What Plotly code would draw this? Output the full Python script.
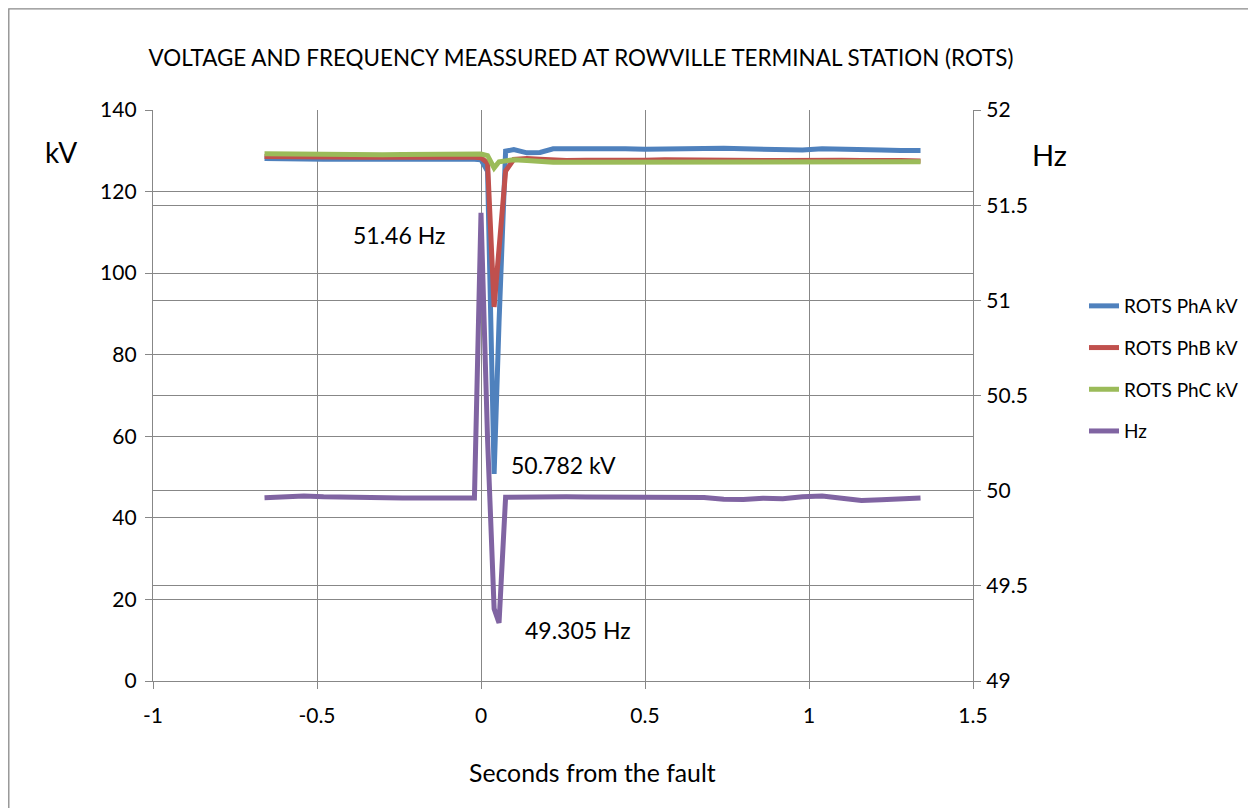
import plotly.graph_objects as go

# ---- data ----
t = [-0.66, -0.6, -0.54, -0.48, -0.42, -0.36, -0.3, -0.24, -0.18, -0.12, -0.06,
     -0.02, 0.0, 0.02, 0.04, 0.055, 0.075,
     0.1, 0.14, 0.18, 0.22, 0.26, 0.32, 0.38, 0.44, 0.5, 0.56, 0.62, 0.68, 0.74,
     0.8, 0.86, 0.92, 0.98, 1.04, 1.1, 1.16, 1.22, 1.28, 1.34]

pha_kv = [128.1, 127.9, 128.0, 127.9, 128.0, 127.8, 127.9, 127.9, 128.0, 128.0, 127.9,
          127.9, 127.8, 125.0, 50.782, 88.0, 129.9,
          130.3, 129.5, 129.6, 130.5, 130.5, 130.6, 130.7, 130.5, 130.4, 130.5, 130.6,
          130.6, 130.6, 130.5, 130.4, 130.2, 130.2, 130.5, 130.3, 130.4, 130.2, 130.1, 130.1]

phb_kv = [128.6, 128.5, 128.5, 128.4, 128.5, 128.4, 128.5, 128.4, 128.5, 128.5, 128.4,
          128.4, 128.3, 127.0, 91.7, 106.0, 125.0,
          127.9, 128.1, 127.9, 127.7, 127.6, 127.7, 127.6, 127.7, 127.7, 127.8, 127.7,
          127.8, 127.7, 127.7, 127.6, 127.6, 127.7, 127.8, 127.7, 127.6, 127.7, 127.6, 127.5]

phc_kv = [129.3, 129.2, 129.1, 129.2, 129.1, 129.1, 129.0, 129.1, 129.1, 129.2, 129.2,
          129.2, 129.2, 128.8, 125.8, 127.3, 127.4,
          127.8, 127.6, 127.3, 127.2, 127.2, 127.2, 127.1, 127.2, 127.2, 127.2, 127.1,
          127.2, 127.1, 127.2, 127.2, 127.2, 127.2, 127.4, 127.2, 127.3, 127.2, 127.3, 127.3]

hz = [49.963, 49.968, 49.972, 49.968, 49.965, 49.962, 49.965, 49.962, 49.962, 49.963, 49.962,
      49.962, 51.46, 50.27, 49.38, 49.305, 49.965,
      49.966, 49.968, 49.970, 49.967, 49.968, 49.967, 49.966, 49.964, 49.963, 49.962, 49.962,
      49.964, 49.955, 49.953, 49.960, 49.958, 49.968, 49.972, 49.960, 49.948, 49.952, 49.960, 49.962]

series_names = ["ROTS PhA kV", "ROTS PhB kV", "ROTS PhC kV", "Hz"]
series_colors = ["#4F81BD", "#C0504D", "#9BBB59", "#8064A2"]

x_ticks = [-1, -0.5, 0, 0.5, 1, 1.5]
x_ticktext = ["-1", "-0.5", "0", "0.5", "1", "1.5"]
kv_ticks = [0, 20, 40, 60, 80, 100, 120, 140]
hz_ticks = [49, 49.5, 50, 50.5, 51, 51.5, 52]

title_text = "VOLTAGE AND FREQUENCY MEASSURED AT ROWVILLE TERMINAL STATION (ROTS)"
x_title = "Seconds from the fault"

FONT = "Lato"
GRID = "#878787"
OFF = 8  # page body offset in the browser

fig = go.Figure()
for name, col, vals in zip(series_names[:3], series_colors[:3], [pha_kv, phb_kv, phc_kv]):
    fig.add_trace(go.Scatter(x=t, y=vals, name=name, mode="lines",
                             line=dict(color=col, width=5), legendgroup=name,
                             yaxis="y"))
fig.add_trace(go.Scatter(x=t, y=hz, name=series_names[3], mode="lines",
                         line=dict(color=series_colors[3], width=5),
                         legendgroup=series_names[3], yaxis="y2"))

axis_common = dict(showgrid=True, gridcolor=GRID, gridwidth=1.3, showline=True,
                   linecolor=GRID, linewidth=1.3, ticks="outside", ticklen=7,
                   tickcolor=GRID, tickwidth=1.3, zeroline=False,
                   tickfont=dict(family=FONT, size=21, color="#000000"))

fig.update_layout(
    width=1256, height=808,
    margin=dict(l=153 - OFF, r=1256 - 973 + OFF, t=110 - OFF, b=808 - 681 + OFF),
    paper_bgcolor="white", plot_bgcolor="white",
    font=dict(family=FONT, color="#000000"),
    title=dict(text=title_text, x=(581 - OFF) / 1256, xanchor="center",
               y=1 - (58 - OFF) / 808, yanchor="middle",
               font=dict(family=FONT, size=22.4, color="#000000")),
    xaxis=dict(range=[-1, 1.5], tickvals=x_ticks, ticktext=x_ticktext,
               ticklabelstandoff=9, **axis_common),
    yaxis=dict(range=[0, 140], tickvals=kv_ticks, ticklabelstandoff=4, **axis_common),
    yaxis2=dict(range=[49, 52], tickvals=hz_ticks, overlaying="y", side="right",
                ticklabelstandoff=1, **axis_common),
    showlegend=True,
    legend=dict(x=(1084 - 153) / 820, xanchor="left", y=0.69, yanchor="top",
                font=dict(family=FONT, size=19, color="#000000"),
                tracegroupgap=14, itemwidth=30, bgcolor="rgba(0,0,0,0)"),
)

annots = [
    dict(text="51.46 Hz", x=-0.25, y=109.4, xref="x", yref="y", size=23),
    dict(text="50.782 kV", x=0.25, y=53.0, xref="x", yref="y", size=23),
    dict(text="49.305 Hz", x=0.296, y=12.5, xref="x", yref="y", size=23),
    dict(text="kV", x=(61 - 153) / 820, y=(681 - 152) / 571, xref="paper", yref="paper", size=28),
    dict(text="Hz", x=(1049 - 153) / 820, y=(681 - 155) / 571, xref="paper", yref="paper", size=29),
    dict(text=x_title, x=(592 - 153) / 820, y=(681 - 772) / 571, xref="paper", yref="paper", size=24.8),
]
for a in annots:
    fig.add_annotation(text=a["text"], x=a["x"], y=a["y"], xref=a["xref"], yref=a["yref"],
                       showarrow=False, xanchor="center", yanchor="middle",
                       font=dict(family=FONT, size=a["size"], color="#000000"))

# outer chart border (drawn just inside the figure's top-left edge)
fig.add_shape(type="rect", xref="paper", yref="paper",
              x0=(8.8 - 153) / 820, x1=(1290 - 153) / 820,
              y0=(681 - 850) / 571, y1=(681 - 8.8) / 571,
              line=dict(color="#898989", width=1.3), fillcolor="rgba(0,0,0,0)",
              layer="below")

fig.write_html("out.html")
